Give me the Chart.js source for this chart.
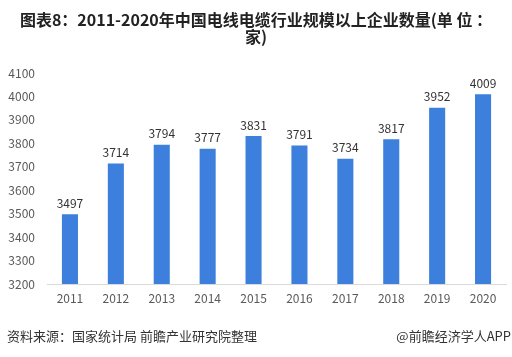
<!DOCTYPE html>
<html><head><meta charset="utf-8">
<script src="https://cdn.jsdelivr.net/npm/chart.js@4"></script>
<style>html,body{margin:0;padding:0;background:#fff;}#wrap{width:512px;height:357px;position:relative;}</style>
</head><body><div id="wrap"><canvas id="c" width="512" height="357"></canvas></div>
<script>
const categories = ['2011','2012','2013','2014','2015','2016','2017','2018','2019','2020'];
const values = [3497,3714,3794,3777,3831,3791,3734,3817,3952,4009];
const titleLines = ['图表8：2011-2020年中国电线电缆行业规模以上企业数量(单 位 ：','家)'];
const sourceText = '资料来源：国家统计局 前瞻产业研究院整理';
const brandText = '@前瞻经济学人APP';
const FONT = '"Noto Sans CJK SC","Noto Sans",sans-serif';

const textPlugin = {
  id: 'texts',
  afterDraw(chart) {
    const ctx = chart.ctx;
    ctx.save();
    ctx.fillStyle = '#222';
    ctx.font = 'bold 16px ' + FONT;
    ctx.textAlign = 'center';
    ctx.textBaseline = 'middle';
    ctx.fillText(titleLines[0], 256, 20);
    ctx.fillText(titleLines[1], 256, 37);
    ctx.font = '13px ' + FONT;
    ctx.fillStyle = '#333';
    ctx.textAlign = 'left';
    ctx.fillText(sourceText, 7, 336);
    ctx.textAlign = 'right';
    ctx.fillText(brandText, 511, 336);
    // value labels
    const meta = chart.getDatasetMeta(0);
    ctx.font = '12px ' + FONT;
    ctx.fillStyle = '#333';
    ctx.textAlign = 'center';
    ctx.textBaseline = 'bottom';
    meta.data.forEach((bar, i) => {
      ctx.fillText(String(values[i]), bar.x, bar.y - 5);
    });
    ctx.restore();
  }
};

new Chart(document.getElementById('c'), {
  type: 'bar',
  data: { labels: categories, datasets: [{ data: values, backgroundColor: '#3d7fdc', categoryPercentage: 1, barPercentage: 0.35 }] },
  options: {
    responsive: false, animation: false,
    layout: { padding: { top: 73, right: 6, bottom: 0, left: 0 } },
    plugins: { legend: { display: false }, tooltip: { enabled: false } },
    scales: {
      x: {
        grid: { display: false, drawTicks: false },
        border: { display: true, color: '#d9d9d9' },
        ticks: { color: '#595959', font: { size: 12, family: FONT }, padding: 7 },
        afterFit(s) { s.height = 73; }
      },
      y: {
        min: 3200, max: 4100,
        grid: { display: false, drawTicks: false },
        border: { display: false },
        ticks: { stepSize: 100, color: '#595959', font: { size: 12, family: FONT }, padding: 12,
          callback: (v) => String(v) },
        afterFit(s) { s.width = 47; }
      }
    }
  },
  plugins: [textPlugin]
});
</script></body></html>
